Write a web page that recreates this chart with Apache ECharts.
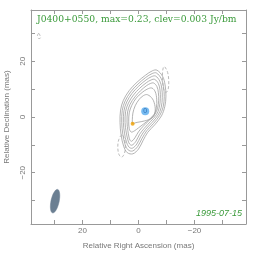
<!DOCTYPE html>
<html><head><meta charset="utf-8">
<script src="https://cdn.jsdelivr.net/npm/echarts@6/dist/echarts.min.js"></script>
<style>html,body{margin:0;padding:0;background:#fff}#c{width:264px;height:262px}</style>
</head><body><div id="c"></div>
<script>
// ---- data (mas) ----
const axisMin = -38.4, axisMax = 38.4;
const tickValues = [-30, -20, -10, 0, 10, 20, 30];
const labelValues = [-20, 0, 20];
const titleText = 'J0400+0550, max=0.23, clev=0.003 Jy/bm';
const dateText = '1995-07-15';

const contour1 = [[-6.6,16.8],[-8.6,14.6],[-9.5,11.5],[-9.8,7.5],[-9.4,3.8],[-8.2,0.4],[-5.8,-2.8],[-3.3,-5.5],[-1.6,-8.5],[0.0,-11.5],[2.0,-13.2],[4.0,-12.8],[5.3,-10.5],[6.2,-6.5],[6.6,-2.0],[6.4,2.5],[5.4,6.0],[3.3,9.5],[0.5,12.5],[-2.5,15.0],[-5.0,16.6]];
const contour2 = [[-6.4,15.8],[-8.1,13.8],[-8.9,11.0],[-9.2,7.3],[-8.8,3.6],[-7.6,0.6],[-5.3,-2.4],[-2.9,-5.0],[-1.2,-7.8],[0.3,-10.6],[2.1,-12.2],[3.7,-11.8],[4.8,-9.8],[5.6,-6.2],[6.0,-2.0],[5.8,2.4],[4.8,5.7],[2.8,9.0],[0.2,11.8],[-2.6,14.2],[-4.9,15.6]];
const contour3 = [[-6.1,14.7],[-7.6,12.9],[-8.3,10.4],[-8.5,7.0],[-8.1,3.4],[-7.0,0.7],[-4.8,-2.0],[-2.5,-4.5],[-0.8,-7.0],[0.6,-9.7],[2.2,-11.2],[3.4,-10.8],[4.3,-9.0],[5.0,-5.8],[5.4,-2.0],[5.2,2.2],[4.2,5.4],[2.3,8.5],[-0.1,11.1],[-2.7,13.3],[-4.7,14.5]];
const contour4 = [[-5.8,13.5],[-7.1,12.0],[-7.7,9.6],[-7.8,6.6],[-7.4,3.3],[-6.4,0.8],[-4.3,-1.6],[-2.1,-4.0],[-0.4,-6.2],[0.9,-8.7],[2.3,-10.1],[3.2,-9.7],[3.8,-8.2],[4.4,-5.4],[4.8,-2.0],[4.6,2.0],[3.6,5.0],[1.8,7.9],[-0.4,10.3],[-2.8,12.3],[-4.5,13.3]];
const contour5 = [[-5.4,12.2],[-6.6,10.9],[-7.1,8.7],[-7.2,6.0],[-6.8,3.1],[-5.8,0.9],[-3.8,-1.2],[-1.7,-3.3],[0.0,-5.3],[1.3,-7.5],[2.4,-8.7],[3.0,-8.4],[3.4,-7.2],[3.8,-4.9],[4.1,-1.8],[3.9,1.8],[3.0,4.6],[1.3,7.2],[-0.7,9.4],[-2.8,11.2],[-4.2,12.0]];
const contour6 = [[-4.8,10.4],[-6.0,9.0],[-6.5,6.4],[-6.4,3.4],[-5.6,1.0],[-3.8,-0.9],[-1.7,-2.6],[0.0,-3.9],[1.5,-5.0],[2.6,-5.4],[3.3,-4.2],[3.5,-1.5],[3.3,1.5],[2.4,4.2],[0.8,6.8],[-1.3,8.8],[-3.1,10.0]];
const contour7 = [[-3.2,8.0],[-5.0,6.5],[-5.9,3.8],[-5.8,1.2],[-4.8,-0.4],[-2.2,-1.4],[-0.2,-1.8],[1.2,-2.1],[2.1,-2.5],[2.2,-1.0],[2.0,1.4],[1.2,4.0],[-0.3,6.4],[-1.8,7.7]];
const negContour1 = [[-9.4,18.0],[-10.4,16.0],[-10.8,13.0],[-10.6,10.0],[-9.8,8.8],[-9.0,10.0],[-8.6,13.0],[-8.6,16.0],[-8.9,17.9]];
const negContour2 = [[5.9,-6.4],[7.0,-8.0],[7.4,-10.6],[7.0,-13.4],[6.0,-14.4],[5.0,-13.0],[4.7,-10.5],[5.0,-8.0]];
const negContour3 = [[35.6,30.0],[36.1,29.2],[35.7,28.2],[35.0,28.4]];
const positiveContours = [contour1, contour2, contour3, contour4, contour5, contour6, contour7];
const negativeContours = [negContour1, negContour2, negContour3];

const componentPos = [[-2.4, 2.1]];
const componentLabels = ['0'];
const corePos = [[2.1, -2.4]];
const beam = { x: 29.8, y: -30.2, major: 8.6, minor: 2.9, pa: -12 };

function beamPoints(b) {
  const pts = [], th = b.pa * Math.PI / 180;
  for (let i = 0; i < 60; i++) {
    const t = 2 * Math.PI * i / 60;
    const u = b.minor / 2 * Math.cos(t), v = b.major / 2 * Math.sin(t);
    pts.push([b.x + u * Math.cos(th) + v * Math.sin(th), b.y - u * Math.sin(th) + v * Math.cos(th)]);
  }
  return pts;
}

const chart = echarts.init(document.getElementById('c'), null, { renderer: 'canvas' });
const grey = '#999';
const labelColor = '#777';
const fmt = v => String(v).replace('-', '\u2212');

function polySeries(list, dashed, color) {
  return {
    type: 'custom',
    coordinateSystem: 'cartesian2d',
    silent: true,
    data: list.map((_, i) => [i, 0]),
    renderItem: (params, api) => {
      const pts = list[params.dataIndex].map(p => api.coord(p));
      return {
        type: 'polygon',
        shape: { points: pts, smooth: 0.35 },
        style: { fill: 'none', stroke: color, lineWidth: 0.8, lineDash: dashed ? [3, 2] : null }
      };
    },
    encode: { x: -1, y: -1 },
    z: 3
  };
}

const axisCommon = {
  type: 'value', min: axisMin, max: axisMax,
  axisLine: { show: true, onZero: false, lineStyle: { color: grey, width: 1 } },
  axisTick: { show: true, inside: true, length: 4, customValues: tickValues, lineStyle: { color: grey, width: 1 } },
  splitLine: { show: false }
};

chart.setOption({
  animation: false,
  grid: { left: 31, top: 10, width: 215, height: 214, show: false, containLabel: false, outerBoundsMode: 'none' },
  xAxis: [
    Object.assign({}, axisCommon, {
      inverse: true, position: 'bottom',
      axisLabel: { customValues: labelValues, formatter: fmt, color: labelColor, fontSize: 8, margin: 3, fontFamily: 'Liberation Sans' },
      name: 'Relative Right Ascension (mas)', nameLocation: 'middle', nameGap: 18,
      nameTextStyle: { color: labelColor, fontSize: 8, fontFamily: 'Liberation Sans' }
    }),
    Object.assign({}, axisCommon, { inverse: true, position: 'top', axisLabel: { show: false } })
  ],
  yAxis: [
    Object.assign({}, axisCommon, {
      position: 'left',
      axisLabel: { customValues: labelValues, formatter: fmt, color: labelColor, fontSize: 8, margin: 4, rotate: 90, fontFamily: 'Liberation Sans' },
      name: 'Relative Declination (mas)', nameLocation: 'middle', nameGap: 14,
      nameTextStyle: { color: labelColor, fontSize: 8, fontFamily: 'Liberation Sans' }
    }),
    Object.assign({}, axisCommon, { position: 'right', axisLabel: { show: false } })
  ],
  graphic: [
    { type: 'text', left: 37, top: 15, style: { text: titleText, fill: '#3a9a3a', font: '9.2px "DejaVu Serif"' } },
    { type: 'text', right: 22, top: 209, style: { text: dateText, fill: '#3a9a3a', font: 'italic 9px "Liberation Sans"' } }
  ],
  series: [
    polySeries(positiveContours, false, '#a0a0a0'),
    polySeries(negativeContours, true, '#a8a8a8'),
    {
      type: 'custom', silent: true, data: [[beam.x, beam.y]], z: 2,
      renderItem: (params, api) => ({
        type: 'polygon',
        shape: { points: beamPoints(beam).map(p => api.coord(p)) },
        style: { fill: '#6b7f92', stroke: '#6b7f92', lineWidth: 0.5 }
      })
    },
    {
      type: 'scatter', data: componentPos, symbolSize: 8, z: 5, silent: true,
      itemStyle: { color: '#55aaee' },
      label: { show: true, position: 'inside', formatter: p => componentLabels[p.dataIndex], color: '#1e5fa8', fontSize: 7, fontFamily: 'Liberation Sans' }
    },
    {
      type: 'scatter', data: corePos, symbolSize: 4, z: 6, silent: true,
      itemStyle: { color: '#f0a000' }
    }
  ]
});
</script></body></html>
